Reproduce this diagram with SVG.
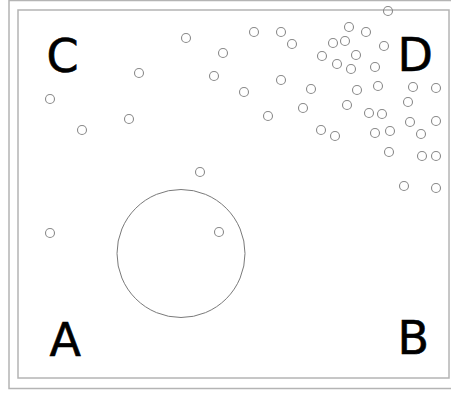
<svg xmlns="http://www.w3.org/2000/svg" width="451" height="394" viewBox="0 0 451 394">
<style>
.frame{fill:none;stroke:#b4b4b4;stroke-width:1.5}
.dot{fill:none;stroke:#8a8a8a;stroke-width:1.1}
.big{fill:none;stroke:#7a7a7a;stroke-width:1}
.lbl{font-family:"DejaVu Sans",sans-serif;font-size:46px;fill:#000;stroke:#000;stroke-width:0.6}
</style>
<rect width="451" height="394" fill="#fff"/>
<rect class="frame" x="9" y="0.5" width="450" height="388"/>
<rect class="frame" x="18" y="10" width="431" height="368"/>
<circle class="big" cx="181" cy="253.5" r="64"/>
<g id="dots">
<circle class="dot" cx="388" cy="11" r="4.5"/>
<circle class="dot" cx="349" cy="27" r="4.5"/>
<circle class="dot" cx="366" cy="32" r="4.5"/>
<circle class="dot" cx="186" cy="38" r="4.5"/>
<circle class="dot" cx="254" cy="32" r="4.5"/>
<circle class="dot" cx="281" cy="32" r="4.5"/>
<circle class="dot" cx="292" cy="44" r="4.5"/>
<circle class="dot" cx="333" cy="43" r="4.5"/>
<circle class="dot" cx="345" cy="41" r="4.5"/>
<circle class="dot" cx="384" cy="46" r="4.5"/>
<circle class="dot" cx="223" cy="53" r="4.5"/>
<circle class="dot" cx="322" cy="56" r="4.5"/>
<circle class="dot" cx="356" cy="55" r="4.5"/>
<circle class="dot" cx="337" cy="64" r="4.5"/>
<circle class="dot" cx="351" cy="69" r="4.5"/>
<circle class="dot" cx="375" cy="67" r="4.5"/>
<circle class="dot" cx="139" cy="73" r="4.5"/>
<circle class="dot" cx="214" cy="76" r="4.5"/>
<circle class="dot" cx="281" cy="80" r="4.5"/>
<circle class="dot" cx="311" cy="89" r="4.5"/>
<circle class="dot" cx="357" cy="90" r="4.5"/>
<circle class="dot" cx="378" cy="86" r="4.5"/>
<circle class="dot" cx="413" cy="87" r="4.5"/>
<circle class="dot" cx="436" cy="88" r="4.5" stroke="#555"/>
<circle class="dot" cx="244" cy="92" r="4.5"/>
<circle class="dot" cx="50" cy="99" r="4.5"/>
<circle class="dot" cx="303" cy="108" r="4.5"/>
<circle class="dot" cx="347" cy="105" r="4.5"/>
<circle class="dot" cx="369" cy="113" r="4.5"/>
<circle class="dot" cx="382" cy="114" r="4.5"/>
<circle class="dot" cx="408" cy="102" r="4.5"/>
<circle class="dot" cx="268" cy="116" r="4.5"/>
<circle class="dot" cx="129" cy="119" r="4.5"/>
<circle class="dot" cx="410" cy="122" r="4.5"/>
<circle class="dot" cx="436" cy="121" r="4.5"/>
<circle class="dot" cx="82" cy="130" r="4.5"/>
<circle class="dot" cx="321" cy="130" r="4.5"/>
<circle class="dot" cx="335" cy="136" r="4.5"/>
<circle class="dot" cx="375" cy="133" r="4.5"/>
<circle class="dot" cx="390" cy="131" r="4.5"/>
<circle class="dot" cx="421" cy="134" r="4.5"/>
<circle class="dot" cx="389" cy="152" r="4.5"/>
<circle class="dot" cx="422" cy="156" r="4.5"/>
<circle class="dot" cx="436" cy="156" r="4.5"/>
<circle class="dot" cx="200" cy="172" r="4.5"/>
<circle class="dot" cx="404" cy="186" r="4.5"/>
<circle class="dot" cx="436" cy="188" r="4.5"/>
<circle class="dot" cx="50" cy="233" r="4.5"/>
<circle class="dot" cx="219" cy="232" r="4.5"/>
</g>
<g id="labels">
<text class="lbl" x="46.5" y="72">C</text>
<text class="lbl" x="397.5" y="71">D</text>
<text class="lbl" x="49.5" y="356">A</text>
<text class="lbl" x="397.5" y="354">B</text>
</g>
</svg>
